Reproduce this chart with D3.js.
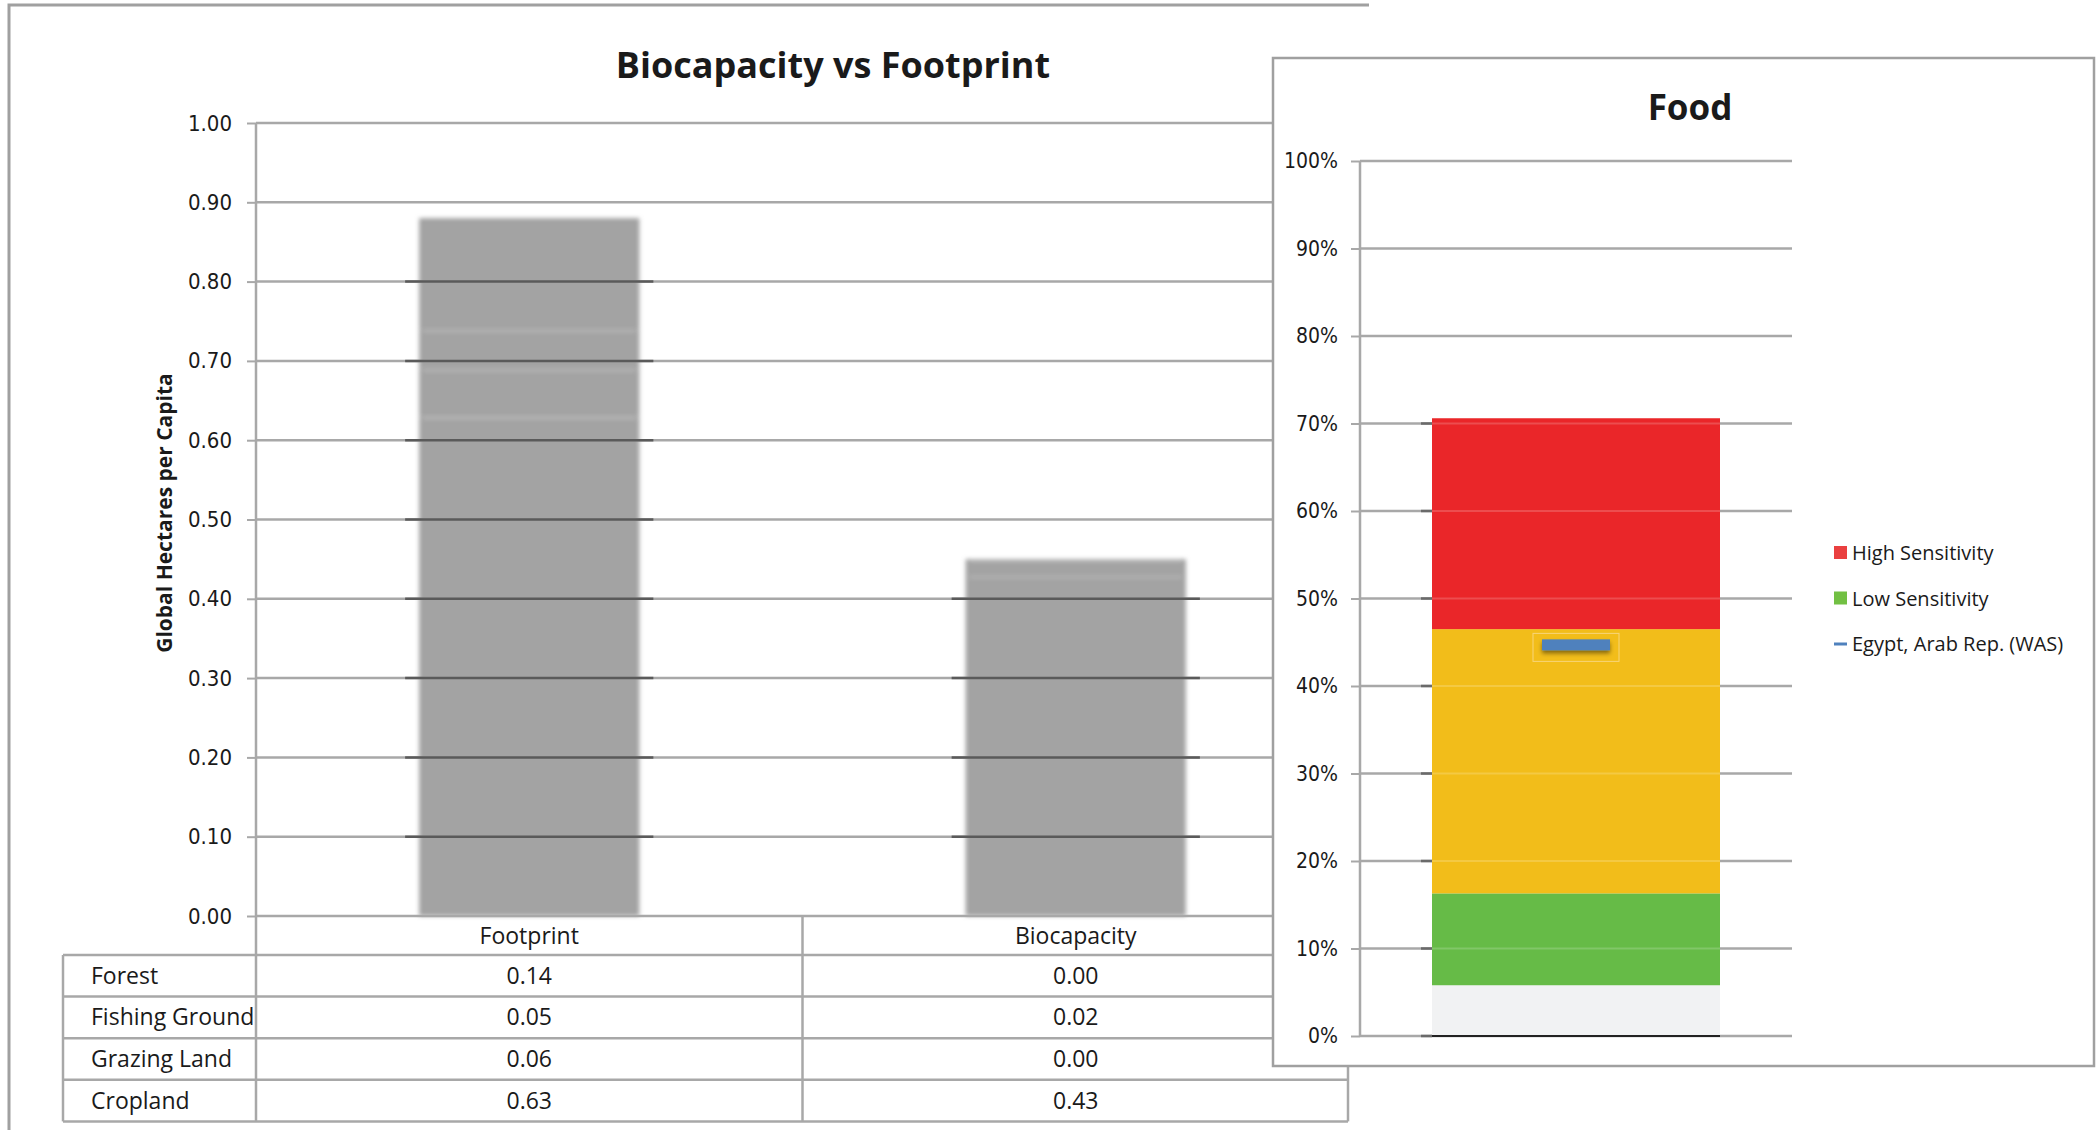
<!DOCTYPE html>
<html>
<head>
<meta charset="utf-8">
<script src="https://cdn.jsdelivr.net/npm/d3@7"></script>
<style>
  body { margin: 0; background: #fff; }
  svg text { fill: #1a1a1a; }
</style>
</head>
<body>
<div id="chart"></div>
<script>
// ---- data ----
const landTypes = ["Forest", "Fishing Ground", "Grazing Land", "Cropland"];
const measures = ["Footprint", "Biocapacity"];
const footprintValues = [0.14, 0.05, 0.06, 0.63];
const biocapacityValues = [0.00, 0.02, 0.00, 0.43];
const hectareTicks = [0, 0.1, 0.2, 0.3, 0.4, 0.5, 0.6, 0.7, 0.8, 0.9, 1.0];

const foodLevels = ["Base", "Low Sensitivity", "Medium", "High Sensitivity"];
const foodValues = [5.8, 10.5, 30.2, 24.1];   // percent, stacked bottom -> top
const foodColors = ["#f1f2f3", "#66bb47", "#f2bd1a", "#ea2629"];
const egyptValue = 44.7;
const percentTicks = [0, 10, 20, 30, 40, 50, 60, 70, 80, 90, 100];
const legendItems = ["High Sensitivity", "Low Sensitivity", "Egypt, Arab Rep. (WAS)"];

var W = 2100, H = 1130;
var gridCol = "#a8a8a8";

var svg = d3.select("#chart").append("svg")
    .attr("width", W)
    .attr("height", H);

var defs = svg.append("defs");
defs.append("filter").attr("id", "soft")
    .attr("x", "-5%").attr("y", "-5%").attr("width", "110%").attr("height", "110%")
  .append("feGaussianBlur").attr("stdDeviation", 2.2);
var sh = defs.append("filter").attr("id", "shadow")
    .attr("x", "-20%").attr("y", "-40%").attr("width", "140%").attr("height", "220%");
sh.append("feDropShadow").attr("dx", 0).attr("dy", 3).attr("stdDeviation", 2)
    .attr("flood-color", "#000").attr("flood-opacity", 0.45);

// ================= left panel: Biocapacity vs Footprint =================
svg.append("path")
    .attr("d", "M9," + H + " V5 H1369")
    .attr("fill", "none")
    .attr("stroke", "#a0a0a0")
    .attr("stroke-width", 3);

svg.append("text")
    .attr("x", 833).attr("y", 78)
    .attr("text-anchor", "middle")
    .style("font-family", "'Open Sans', sans-serif")
    .style("font-weight", "bold")
    .style("font-size", "36px")
    .text("Biocapacity vs Footprint");

var y = d3.scaleLinear().domain([0, 1]).range([916, 123]);
var x = d3.scaleBand().domain(measures).range([256, 1349]);
var barW = x.bandwidth() * 0.403;

// gridlines
svg.append("g").selectAll("line")
  .data(hectareTicks.slice(1))
  .enter().append("line")
    .attr("x1", 256).attr("x2", 1349)
    .attr("y1", d => y(d)).attr("y2", d => y(d))
    .attr("stroke", gridCol)
    .attr("stroke-width", 2.5);

// stacked bars (all grey, faint seams between land types)
var rows = measures.map(function(m, i) {
  var r = {measure: m};
  landTypes.forEach(function(k, j) {
    r[k] = (i == 0 ? footprintValues : biocapacityValues)[j];
  });
  return r;
});
var stack = d3.stack().keys(landTypes.slice().reverse())(rows);

var barG = svg.append("g").attr("filter", "url(#soft)");
stack.forEach(function(layer) {
  barG.selectAll(null)
    .data(layer)
    .enter().append("rect")
      .attr("x", d => x(d.data.measure) + (x.bandwidth() - barW) / 2)
      .attr("width", barW)
      .attr("y", d => y(d[1]))
      .attr("height", d => y(d[0]) - y(d[1]))
      .attr("fill", "#a3a3a3");
});
// lighter seams at the top of each non-final segment
stack.slice(0, -1).forEach(function(layer) {
  barG.selectAll(null)
    .data(layer.filter(d => d[1] > 0))
    .enter().append("line")
      .attr("x1", d => x(d.data.measure) + (x.bandwidth() - barW) / 2 + 4)
      .attr("x2", d => x(d.data.measure) + (x.bandwidth() + barW) / 2 - 4)
      .attr("y1", d => y(d[1]) + 2).attr("y2", d => y(d[1]) + 2)
      .attr("stroke", "#b4b4b4")
      .attr("stroke-width", 2.5);
});

// darker gridline segments where they cross the bars
rows.forEach(function(r) {
  var total = d3.sum(landTypes, k => r[k]);
  var x0 = x(r.measure) + (x.bandwidth() - barW) / 2;
  svg.append("g").selectAll("line")
    .data(hectareTicks.filter(t => t > 0 && t < total))
    .enter().append("line")
      .attr("x1", x0 - 14).attr("x2", x0 + barW + 14)
      .attr("y1", d => y(d)).attr("y2", d => y(d))
      .attr("stroke", "#5a5a5a")
      .attr("stroke-width", 2.5);
});

// y axis
var yAxis = svg.append("g")
    .attr("transform", "translate(256,0)")
    .call(d3.axisLeft(y).tickValues(hectareTicks).tickFormat(d3.format(".2f")).tickSize(9).tickPadding(15));
yAxis.select(".domain").attr("stroke", gridCol).attr("stroke-width", 2.5)
    .attr("d", "M0," + y(1) + "V1122");
yAxis.selectAll(".tick line").attr("stroke", gridCol).attr("stroke-width", 2);
yAxis.selectAll(".tick text")
    .style("font-family", "'DejaVu Sans', sans-serif")
    .style("font-stretch", "condensed")
    .style("font-size", "22px")
    .attr("fill", "#1a1a1a");

svg.append("text")
    .attr("transform", "translate(172,513) rotate(-90)")
    .attr("text-anchor", "middle")
    .style("font-family", "'Open Sans', sans-serif")
    .style("font-weight", "bold")
    .style("font-size", "21px")
    .text("Global Hectares per Capita");

// data table under the bars
var tableTop = 916, headH = 39, rowH = 41.6, labelX = 63;
var tableRight = x.range()[1] - 1;
var tbl = svg.append("g")
    .style("font-family", "'Open Sans', sans-serif")
    .style("font-size", "23px");

var hLines = [tableTop + headH].concat(landTypes.map((k, i) => tableTop + headH + rowH * (i + 1)));
tbl.selectAll("line.h")
  .data(hLines)
  .enter().append("line")
    .attr("x1", labelX).attr("x2", tableRight)
    .attr("y1", d => d).attr("y2", d => d)
    .attr("stroke", gridCol).attr("stroke-width", 2.5);
var tableBottom = hLines[hLines.length - 1];
[x(measures[1]), tableRight].forEach(function(vx) {
  tbl.append("line")
    .attr("x1", vx).attr("x2", vx)
    .attr("y1", tableTop).attr("y2", tableBottom)
    .attr("stroke", gridCol).attr("stroke-width", 2.5);
});
tbl.append("line")
    .attr("x1", labelX).attr("x2", labelX)
    .attr("y1", tableTop + headH).attr("y2", tableBottom)
    .attr("stroke", gridCol).attr("stroke-width", 2.5);
tbl.append("line")
    .attr("x1", 256).attr("x2", tableRight)
    .attr("y1", tableTop).attr("y2", tableTop)
    .attr("stroke", gridCol).attr("stroke-width", 2.5);

tbl.selectAll("text.head")
  .data(measures)
  .enter().append("text")
    .attr("x", d => x(d) + x.bandwidth() / 2)
    .attr("y", tableTop + headH / 2 + 8)
    .attr("text-anchor", "middle")
    .text(d => d);

landTypes.forEach(function(k, i) {
  var cy = tableTop + headH + rowH * i + rowH / 2 + 8;
  tbl.append("text").attr("x", labelX + 28).attr("y", cy).text(k);
  tbl.append("text").attr("x", x("Footprint") + x.bandwidth() / 2).attr("y", cy)
      .attr("text-anchor", "middle").text(footprintValues[i].toFixed(2));
  tbl.append("text").attr("x", x("Biocapacity") + x.bandwidth() / 2).attr("y", cy)
      .attr("text-anchor", "middle").text(biocapacityValues[i].toFixed(2));
});

// ================= right panel: Food =================
var fp = svg.append("g");
fp.append("rect")
    .attr("x", 1273).attr("y", 58)
    .attr("width", 821).attr("height", 1008)
    .attr("fill", "#fff")
    .attr("stroke", "#a0a0a0")
    .attr("stroke-width", 2.5);

fp.append("text")
    .attr("x", 1690).attr("y", 120)
    .attr("text-anchor", "middle")
    .style("font-family", "'Open Sans', sans-serif")
    .style("font-weight", "bold")
    .style("font-size", "35px")
    .text("Food");

var fy = d3.scaleLinear().domain([0, 100]).range([1036, 161]);
var fx = d3.scaleBand().domain(["Food"]).range([1360, 1792]).padding(0.2);

fp.append("g").selectAll("line")
  .data(percentTicks)
  .enter().append("line")
    .attr("x1", 1360).attr("x2", 1792)
    .attr("y1", d => fy(d)).attr("y2", d => fy(d))
    .attr("stroke", gridCol).attr("stroke-width", 2.5);

var foodStack = [];
var acc = 0;
foodValues.forEach(function(v, i) {
  foodStack.push({level: foodLevels[i], y0: acc, y1: acc + v, color: foodColors[i]});
  acc += v;
});
fp.append("g").selectAll("rect")
  .data(foodStack)
  .enter().append("rect")
    .attr("x", fx("Food"))
    .attr("width", fx.bandwidth())
    .attr("y", d => fy(d.y1))
    .attr("height", d => fy(d.y0) - fy(d.y1))
    .attr("fill", d => d.color);

// faint gridlines seen through the bar + darker stubs beside it
fp.append("g").selectAll("line")
  .data(percentTicks.filter(t => t > 0 && t < acc))
  .enter().append("line")
    .attr("x1", fx("Food")).attr("x2", fx("Food") + fx.bandwidth())
    .attr("y1", d => fy(d)).attr("y2", d => fy(d))
    .attr("stroke", "#fff").attr("stroke-opacity", 0.18).attr("stroke-width", 2);
fp.append("g").selectAll("line")
  .data(percentTicks.filter(t => t < acc))
  .enter().append("line")
    .attr("x1", fx("Food") - 11).attr("x2", fx("Food"))
    .attr("y1", d => fy(d)).attr("y2", d => fy(d))
    .attr("stroke", "#6a6a6a").attr("stroke-width", 2.5);
fp.append("line")
    .attr("x1", fx("Food")).attr("x2", fx("Food") + fx.bandwidth())
    .attr("y1", fy(0)).attr("y2", fy(0))
    .attr("stroke", "#222").attr("stroke-width", 2);

// Egypt marker
var mW = 68, mH = 11;
fp.append("rect")
    .attr("x", fx("Food") + fx.bandwidth() / 2 - mW / 2 - 9)
    .attr("y", fy(egyptValue) - mH / 2 - 6)
    .attr("width", mW + 18).attr("height", mH + 17)
    .attr("fill", "none").attr("stroke", "#f7d57a").attr("stroke-width", 1);
fp.append("rect")
    .attr("x", fx("Food") + fx.bandwidth() / 2 - mW / 2)
    .attr("y", fy(egyptValue) - mH / 2)
    .attr("width", mW).attr("height", mH)
    .attr("fill", "#4f81bd")
    .attr("filter", "url(#shadow)");

var fAxis = fp.append("g")
    .attr("transform", "translate(1360,0)")
    .call(d3.axisLeft(fy).tickValues(percentTicks).tickFormat(d => d + "%").tickSize(9).tickPadding(13));
fAxis.select(".domain").attr("stroke", gridCol).attr("stroke-width", 2.5)
    .attr("d", "M0," + fy(100) + "V" + fy(0));
fAxis.selectAll(".tick line").attr("stroke", gridCol).attr("stroke-width", 2);
fAxis.selectAll(".tick text")
    .style("font-family", "'DejaVu Sans', sans-serif")
    .style("font-stretch", "condensed")
    .style("font-size", "21px")
    .attr("fill", "#1a1a1a");

// legend
var legendColors = ["#ea4040", "#72c043", "#4f81bd"];
var lg = fp.append("g")
    .style("font-family", "'Open Sans', sans-serif")
    .style("font-size", "20px");
legendItems.forEach(function(name, i) {
  var cy = 553 + i * 45.5;
  if (i < 2) {
    lg.append("rect").attr("x", 1834).attr("y", cy - 7).attr("width", 13).attr("height", 13)
        .attr("fill", legendColors[i]);
  } else {
    lg.append("line").attr("x1", 1834).attr("x2", 1847).attr("y1", cy).attr("y2", cy)
        .attr("stroke", legendColors[i]).attr("stroke-width", 3);
  }
  lg.append("text").attr("x", 1852).attr("y", cy + 7).text(name);
});
</script>
</body>
</html>
